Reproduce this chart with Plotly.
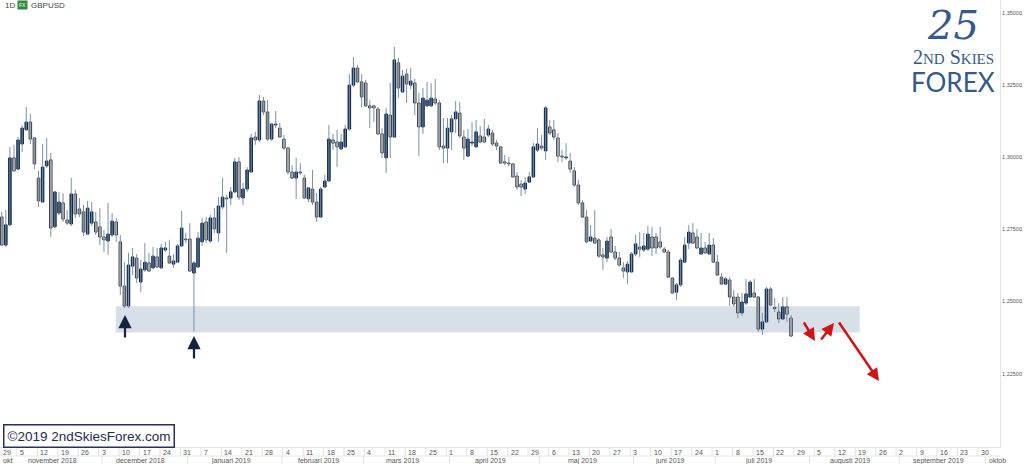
import plotly.graph_objects as go
import pandas as pd

# ---------------- data (GBPUSD daily) ----------------
dates = pd.bdate_range('2018-10-29', periods=194)

opens = [1.2792,1.2695,1.2765,1.2997,1.2958,1.3045,1.3094,1.3121,1.3066,1.2927,
         1.2844,1.2969,1.2990,1.2758,1.2806,1.2841,1.2782,1.2768,1.2872,1.2820,
         1.2810,1.2733,1.2771,1.2775,1.2758,1.2723,1.2709,1.2730,1.2775,1.2706,
         1.2553,1.2484,1.2622,1.2650,1.2567,1.2609,1.2633,1.2616,1.2654,1.2616,
         1.2678,1.2657,1.2629,1.2636,1.2692,1.2716,1.2716,1.2598,1.2619,1.2706,
         1.2775,1.2709,1.2789,1.2737,1.2827,1.2858,1.2858,1.2879,1.2983,1.2858,
         1.2889,1.2948,1.3069,1.3059,1.3194,1.3156,1.3062,1.3111,1.3100,1.3062,
         1.3031,1.2948,1.2927,1.2948,1.2927,1.2855,1.2889,1.2844,1.2792,1.2896,
         1.2917,1.3059,1.3052,1.3028,1.3035,1.3097,1.3249,1.3308,1.3260,1.3256,
         1.3177,1.3177,1.3166,1.3080,1.2997,1.3145,1.3069,1.3326,1.3225,1.3287,
         1.3249,1.3256,1.3187,1.3104,1.3177,1.3177,1.3201,1.3187,1.3038,1.3031,
         1.3087,1.3132,1.3152,1.3069,1.3003,1.3048,1.3035,1.3073,1.3069,1.3076,
         1.3083,1.3048,1.3035,1.2983,1.2979,1.2976,1.2934,1.2906,1.2889,1.2913,
         1.2931,1.3024,1.3038,1.3021,1.3104,1.3094,1.3066,1.3003,1.2997,1.2986,
         1.2952,1.2903,1.2841,1.2792,1.2709,1.2719,1.2713,1.2661,1.2650,1.2723,
         1.2671,1.2650,1.2616,1.2602,1.2602,1.2664,1.2688,1.2678,1.2681,1.2723,
         1.2723,1.2706,1.2681,1.2671,1.2581,1.2532,1.2557,1.2636,1.2702,1.2737,
         1.2723,1.2664,1.2685,1.2664,1.2695,1.2636,1.2584,1.2560,1.2574,1.2515,
         1.2515,1.2460,1.2494,1.2515,1.2529,1.2515,1.2404,1.2429,1.2543,1.2479,
         1.2463,1.2439,1.2481,1.2442]

highs = [1.2810,1.2816,1.3035,1.3042,1.3069,1.3110,1.3173,1.3149,1.3069,1.2952,
         1.3045,1.3066,1.3014,1.2882,1.2879,1.2875,1.2816,1.2927,1.2886,1.2858,
         1.2834,1.2848,1.2844,1.2810,1.2823,1.2747,1.2841,1.2806,1.2789,1.2730,
         1.2636,1.2668,1.2685,1.2664,1.2643,1.2702,1.2668,1.2688,1.2685,1.2699,
         1.2706,1.2713,1.2664,1.2699,1.2813,1.2737,1.2771,1.2640,1.2740,1.2789,
         1.2792,1.2799,1.2823,1.2861,1.2927,1.2868,1.2896,1.2997,1.3000,1.2910,
         1.2965,1.3080,1.3087,1.3215,1.3208,1.3197,1.3118,1.3159,1.3118,1.3076,
         1.3035,1.2972,1.2997,1.2979,1.2938,1.2896,1.2955,1.2875,1.2896,1.2938,
         1.3111,1.3080,1.3094,1.3080,1.3111,1.3287,1.3346,1.3319,1.3287,1.3267,
         1.3197,1.3180,1.3173,1.3100,1.3170,1.3256,1.3381,1.3343,1.3301,1.3305,
         1.3308,1.3270,1.3222,1.3239,1.3260,1.3256,1.3270,1.3197,1.3135,1.3135,
         1.3145,1.3194,1.3190,1.3094,1.3097,1.3121,1.3128,1.3107,1.3132,1.3111,
         1.3094,1.3059,1.3038,1.3007,1.3000,1.2979,1.2948,1.2920,1.2931,1.2948,
         1.3048,1.3100,1.3076,1.3177,1.3128,1.3128,1.3083,1.3024,1.3048,1.3014,
         1.2965,1.2920,1.2851,1.2816,1.2765,1.2816,1.2719,1.2685,1.2723,1.2751,
         1.2692,1.2671,1.2636,1.2640,1.2671,1.2730,1.2740,1.2737,1.2761,1.2758,
         1.2737,1.2758,1.2688,1.2678,1.2584,1.2564,1.2650,1.2723,1.2765,1.2771,
         1.2751,1.2737,1.2706,1.2737,1.2719,1.2661,1.2598,1.2584,1.2584,1.2539,
         1.2529,1.2529,1.2578,1.2574,1.2578,1.2519,1.2460,1.2550,1.2550,1.2512,
         1.2494,1.2515,1.2515,1.2453]

lows = [1.2692,1.2688,1.2761,1.2948,1.2955,1.3017,1.3090,1.3045,1.2958,1.2827,
        1.2841,1.2962,1.2723,1.2754,1.2799,1.2775,1.2765,1.2761,1.2789,1.2792,
        1.2726,1.2730,1.2761,1.2730,1.2695,1.2671,1.2661,1.2723,1.2706,1.2522,
        1.2477,1.2477,1.2591,1.2564,1.2532,1.2602,1.2602,1.2612,1.2616,1.2612,
        1.2671,1.2629,1.2616,1.2633,1.2688,1.2702,1.2602,1.2396,1.2616,1.2692,
        1.2702,1.2702,1.2737,1.2706,1.2820,1.2668,1.2834,1.2875,1.2851,1.2834,
        1.2879,1.2945,1.3042,1.3052,1.3145,1.3055,1.3055,1.3100,1.3066,1.3024,
        1.2938,1.2924,1.2855,1.2938,1.2855,1.2844,1.2834,1.2775,1.2789,1.2893,
        1.2913,1.3024,1.2965,1.3024,1.3031,1.3090,1.3242,1.3256,1.3173,1.3173,
        1.3100,1.3121,1.3076,1.2997,1.2945,1.2997,1.3066,1.3204,1.3222,1.3187,
        1.3235,1.3145,1.3003,1.3080,1.3173,1.3173,1.3180,1.3024,1.2979,1.2979,
        1.3024,1.3083,1.3066,1.2990,1.3000,1.3038,1.3031,1.3048,1.3048,1.3069,
        1.3038,1.3024,1.2976,1.2972,1.2969,1.2928,1.2886,1.2865,1.2872,1.2910,
        1.2927,1.3017,1.3024,1.2990,1.3076,1.3059,1.2983,1.2983,1.2990,1.2945,
        1.2896,1.2834,1.2789,1.2702,1.2706,1.2699,1.2650,1.2609,1.2636,1.2668,
        1.2643,1.2619,1.2581,1.2560,1.2598,1.2657,1.2654,1.2671,1.2674,1.2657,
        1.2664,1.2681,1.2668,1.2581,1.2526,1.2505,1.2550,1.2636,1.2681,1.2699,
        1.2681,1.2661,1.2664,1.2661,1.2633,1.2588,1.2557,1.2557,1.2484,1.2481,
        1.2442,1.2449,1.2487,1.2512,1.2512,1.2394,1.2384,1.2425,1.2484,1.2463,
        1.2425,1.2436,1.2429,1.2377]

closes = [1.2695,1.2765,1.2997,1.2952,1.3059,1.3100,1.3121,1.3062,1.2976,1.2848,
          1.2965,1.2986,1.2754,1.2879,1.2844,1.2785,1.2771,1.2872,1.2803,1.2803,
          1.2740,1.2823,1.2810,1.2740,1.2723,1.2713,1.2733,1.2778,1.2730,1.2553,
          1.2484,1.2626,1.2654,1.2581,1.2612,1.2636,1.2605,1.2657,1.2619,1.2685,
          1.2685,1.2633,1.2640,1.2692,1.2754,1.2713,1.2605,1.2633,1.2719,1.2771,
          1.2713,1.2789,1.2751,1.2830,1.2861,1.2855,1.2879,1.2983,1.2861,1.2889,
          1.2955,1.3066,1.3059,1.3194,1.3156,1.3062,1.3114,1.3114,1.3069,1.3031,
          1.2948,1.2927,1.2948,1.2945,1.2858,1.2893,1.2844,1.2792,1.2889,1.2917,
          1.3062,1.3048,1.3035,1.3052,1.3097,1.3249,1.3308,1.3260,1.3208,1.3177,
          1.3170,1.3170,1.3080,1.3014,1.3149,1.3069,1.3336,1.3239,1.3280,1.3253,
          1.3263,1.3187,1.3104,1.3204,1.3197,1.3204,1.3187,1.3035,1.3031,1.3100,
          1.3132,1.3156,1.3073,1.3031,1.3062,1.3052,1.3087,1.3052,1.3052,1.3097,
          1.3045,1.3038,1.2979,1.2979,1.2976,1.2931,1.2896,1.2896,1.2910,1.2931,
          1.3035,1.3045,1.3031,1.3170,1.3083,1.3069,1.3003,1.3000,1.3000,1.2958,
          1.2903,1.2841,1.2792,1.2706,1.2723,1.2702,1.2657,1.2654,1.2709,1.2671,
          1.2650,1.2626,1.2605,1.2629,1.2664,1.2699,1.2681,1.2692,1.2733,1.2685,
          1.2685,1.2688,1.2671,1.2584,1.2529,1.2557,1.2643,1.2695,1.2740,1.2702,
          1.2685,1.2685,1.2668,1.2695,1.2636,1.2591,1.2560,1.2578,1.2515,1.2491,
          1.2460,1.2498,1.2526,1.2567,1.2515,1.2404,1.2429,1.2543,1.2487,1.2475,
          1.2439,1.2481,1.2456,1.2380]

# support zone (price band) and its extent on the trading-day axis
zone_top = 1.2483
zone_bottom = 1.2392
zone_from = 27.9
zone_to = 209.8

y_ticks = [1.225, 1.25, 1.275, 1.30, 1.325, 1.35]
months_sv = ['januari', 'februari', 'mars', 'april', 'maj', 'juni', 'juli',
             'augusti', 'september', 'oktober', 'november', 'december']

# calendar of trading days for the axis (data + empty future part)
calendar = pd.bdate_range('2018-10-29', '2019-10-04')

# ---------------- layout helpers ----------------
W, H = 1024, 464
PLOT_W, PLOT_H = 1000, 447
X_MIN, X_MAX = -0.42, 244.1
WEEK_SEP = 1.3   # separator drawn a bit before each Monday
def PX(x):
    return x / PLOT_W
def PY(y):
    return (PLOT_H - y) / PLOT_H

n = len(opens)
xs = list(range(n))
hi = [max(h, o, c) for h, o, c in zip(highs, opens, closes)]
lo = [min(l, o, c) for l, o, c in zip(lows, opens, closes)]

fig = go.Figure()

# wicks
wx, wy = [], []
for i in xs:
    wx += [i, i, None]
    wy += [lo[i], hi[i], None]
fig.add_trace(go.Scatter(x=wx, y=wy, mode='lines',
                         line=dict(color='#7890ad', width=1),
                         hoverinfo='skip', showlegend=False))

# bodies
MIN_BODY = 0.00006
up_x, up_b, up_h, dn_x, dn_b, dn_h = [], [], [], [], [], []
for i, o, c in zip(xs, opens, closes):
    b = min(o, c)
    hgt = max(abs(c - o), MIN_BODY)
    if c >= o:
        up_x.append(i); up_b.append(b); up_h.append(hgt)
    else:
        dn_x.append(i); dn_b.append(b); dn_h.append(hgt)

fig.add_trace(go.Bar(x=dn_x, y=dn_h, base=dn_b, width=0.62,
                     marker=dict(color='#e1e1e1', line=dict(color='#3e3e3e', width=1)),
                     showlegend=False, hoverinfo='skip'))
fig.add_trace(go.Bar(x=up_x, y=up_h, base=up_b, width=0.62,
                     marker=dict(color='#0f2846', line=dict(color='#0f2846', width=1)),
                     showlegend=False, hoverinfo='skip'))

shapes = []
# support zone
shapes.append(dict(type='rect', xref='x', yref='y', x0=zone_from, x1=zone_to,
                   y0=zone_bottom, y1=zone_top, fillcolor='rgba(190,203,219,0.62)',
                   line=dict(width=0), layer='below'))

annotations = []
axis_font = dict(size=7, color='#555555', family='Liberation Sans')

# ---- date axis: day row and month row ----
row1_top, row_mid, row2_bot = PY(448), PY(456), PY(464)
shapes.append(dict(type='line', xref='paper', yref='paper', x0=0, x1=PX(1000),
                   y0=row_mid, y1=row_mid, line=dict(color='#e6e6e6', width=1)))
for i, d in enumerate(calendar):
    if d.weekday() == 0:
        pos = max(i - WEEK_SEP, X_MIN)
        shapes.append(dict(type='line', xref='x', yref='paper', x0=pos, x1=pos,
                           y0=row1_top, y1=row_mid, line=dict(color='#e3e3e3', width=1)))
        annotations.append(dict(xref='x', yref='paper', x=pos, y=PY(452.5),
                                text=str(d.day), showarrow=False, xanchor='left',
                                yanchor='middle', xshift=1, font=axis_font))

# months
month_groups = {}
for i, d in enumerate(calendar):
    month_groups.setdefault((d.year, d.month), []).append(i)
keys = list(month_groups.keys())
for k_i, key in enumerate(keys):
    idx = month_groups[key]
    first, last = idx[0], idx[-1]
    if k_i > 0:
        shapes.append(dict(type='line', xref='x', yref='paper', x0=first - 0.5, x1=first - 0.5,
                           y0=row_mid, y1=row2_bot, line=dict(color='#e3e3e3', width=1)))
    name = months_sv[key[1] - 1]
    if k_i == 0:
        annotations.append(dict(xref='x', yref='paper', x=X_MIN, y=PY(460.5),
                                text=name[:3], showarrow=False, xanchor='left', yanchor='middle',
                                xshift=1, font=axis_font))
    elif k_i == len(keys) - 1:
        annotations.append(dict(xref='x', yref='paper', x=first - 0.5, y=PY(460.5),
                                text=name[:5], showarrow=False, xanchor='left', yanchor='middle',
                                xshift=2, font=axis_font))
    else:
        annotations.append(dict(xref='x', yref='paper', x=(first + last) / 2 - 1, y=PY(460.5),
                                text=f'{name} {key[0]}', showarrow=False, xanchor='center',
                                yanchor='middle', font=axis_font))

# ---- header top-left ----
annotations.append(dict(xref='paper', yref='paper', x=PX(3), y=PY(5.5), text='1D',
                        showarrow=False, xanchor='left', yanchor='middle',
                        font=dict(size=8, color='#444444', family='Liberation Sans')))
annotations.append(dict(xref='paper', yref='paper', x=PX(17), y=PY(5.5), text='FX',
                        showarrow=False, xanchor='left', yanchor='middle', bgcolor='#2f8a3c',
                        borderpad=1, font=dict(size=5, color='white', family='Liberation Sans')))
annotations.append(dict(xref='paper', yref='paper', x=PX(29), y=PY(5.5), text='GBPUSD',
                        showarrow=False, xanchor='left', yanchor='middle',
                        font=dict(size=8, color='#444444', family='Liberation Sans')))

# ---- logo top-right ----
logo_col = '#35598a'
annotations.append(dict(xref='paper', yref='paper', x=PX(953), y=PY(25), text='<i>25</i>',
                        showarrow=False, xanchor='center', yanchor='middle',
                        font=dict(size=40, color=logo_col, family='DejaVu Serif')))
annotations.append(dict(xref='paper', yref='paper', x=PX(953), y=PY(57),
                        text="2<span style='font-size:15px'>ND</span> S<span style='font-size:15px'>KIES</span>",
                        showarrow=False, xanchor='center', yanchor='middle',
                        font=dict(size=20, color=logo_col, family='Liberation Serif')))
annotations.append(dict(xref='paper', yref='paper', x=PX(953), y=PY(82), text='FOREX',
                        showarrow=False, xanchor='center', yanchor='middle',
                        font=dict(size=26, color=logo_col, family='Lato, Open Sans, sans-serif')))

# ---- copyright box ----
annotations.append(dict(xref='paper', yref='paper', x=PX(3), y=PY(424), text='©2019 2ndSkiesForex.com',
                        showarrow=False, xanchor='left', yanchor='top', bgcolor='white',
                        bordercolor='#26315e', borderwidth=1.5, borderpad=3,
                        font=dict(size=13.5, color='#1e2a55', family='Liberation Sans')))

# ---- navy arrows under the lows ----
for (hx, hy) in [(125, 315), (194, 336)]:
    annotations.append(dict(xref='paper', yref='paper', x=PX(hx), y=PY(hy), ax=0, ay=24,
                            text='', showarrow=True, arrowhead=2, arrowsize=1.2,
                            arrowwidth=2.2, arrowcolor='#16223f'))

# ---- red projection arrows ----
for (tx, ty, hx, hy) in [(803, 321, 815, 341), (820, 341, 834, 323), (838, 321, 879, 381)]:
    annotations.append(dict(xref='paper', yref='paper', x=PX(hx), y=PY(hy), ax=tx - hx, ay=ty - hy,
                            text='', showarrow=True, arrowhead=2, arrowsize=1,
                            arrowwidth=2.5, arrowcolor='#d11414'))

fig.update_layout(
    width=W, height=H,
    margin=dict(l=0, r=24, t=0, b=17, autoexpand=False),
    paper_bgcolor='white', plot_bgcolor='white',
    barmode='overlay', showlegend=False,
    shapes=shapes, annotations=annotations,
    xaxis=dict(range=[X_MIN, X_MAX], showgrid=False, zeroline=False, showticklabels=False,
               showline=True, linecolor='#e3e3e3', linewidth=1, ticks='', automargin=False),
    yaxis=dict(range=[1.19958, 1.35436], side='right', showgrid=False, zeroline=False,
               tickvals=y_ticks, ticktext=[f'{v:.5f}'.replace('.', ',') for v in y_ticks],
               ticks='', showline=True, linecolor='#e3e3e3', linewidth=1, automargin=False,
               tickfont=dict(size=5.5, color='#555555', family='Liberation Sans')),
)

fig.write_html('out.html', config={'displayModeBar': False},
               post_script="document.body.style.margin='0px';document.body.style.overflow='hidden';")
